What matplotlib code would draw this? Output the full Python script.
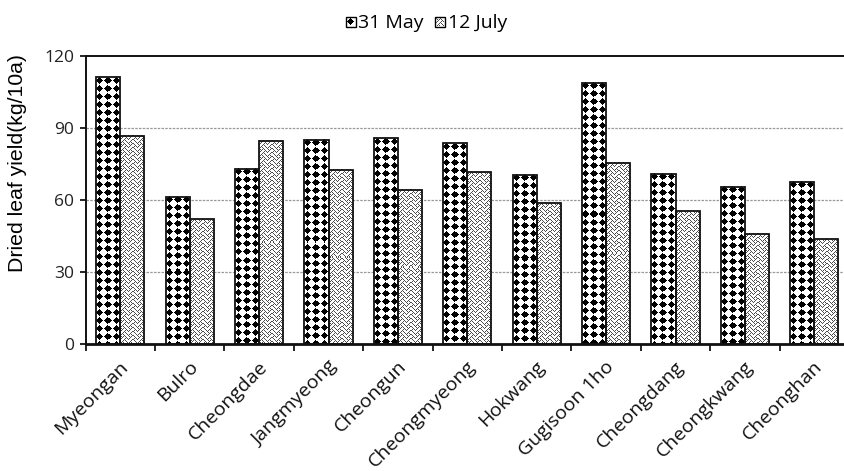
import numpy as np
import matplotlib
matplotlib.use("Agg")
import matplotlib.pyplot as plt
from matplotlib.patches import Rectangle
from matplotlib.legend_handler import HandlerBase
from matplotlib.transforms import ScaledTranslation

# ---- data ----
cultivars = ["Myeongan", "Bulro", "Cheongdae", "Jangmyeong", "Cheongun",
             "Cheongmyeong", "Hokwang", "Gugisoon 1ho", "Cheongdang",
             "Cheongkwang", "Cheonghan"]
may31 = [111.0, 61.3, 72.8, 84.9, 85.6, 83.5, 70.3, 108.7, 71.0, 65.5, 67.6]
july12 = [86.7, 51.9, 84.5, 72.4, 64.1, 71.5, 58.6, 75.4, 55.3, 45.8, 43.6]
series_labels = ["31 May", "12 July"]
yticks = [0, 30, 60, 90, 120]
ylabel = "Dried leaf yield(kg/10a)"

# ---- patterns (8x8 bitmaps) ----
def bits(rows):
    return np.array([[(r >> (7 - i)) & 1 for i in range(8)] for r in rows], dtype=float)

diamond = bits([0x10, 0x38, 0x7c, 0xfe, 0x7c, 0x38, 0x10, 0x00])
weave = bits([0x88, 0x54, 0x22, 0x45, 0x88, 0x14, 0x22, 0x51])
weave_color = (0.3, 0.3, 0.3)
patterns = [(diamond, (0, 0, 0)), (weave, weave_color)]

def pattern_rgb(tile, color, h, w):
    reps = (h // 8 + 2, w // 8 + 2)
    big = np.tile(tile, reps)[:h, :w]
    img = np.ones((h, w, 3))
    for c in range(3):
        img[:, :, c] = np.where(big > 0, color[c], 1.0)
    return img

W, H = 844, 471
fig = plt.figure(figsize=(W / 100, H / 100), dpi=100)
ax = fig.add_axes([85.6 / W, (H - 344.3) / H, (849 - 85.6) / W, (344.3 - 55.7) / H])

n = len(cultivars)
x = np.arange(n)
bw = 0.346
ax.set_xlim(-0.5, n - 0.5)
ax.set_ylim(0, 120)

for si, vals in enumerate([may31, july12]):
    tile, color = patterns[si]
    offs = (si - 0.5) * bw
    bars = ax.bar(x + offs, vals, width=bw, facecolor="none", edgecolor="#111111",
                  linewidth=1.3, zorder=3)
    for b in bars:
        x0, x1 = b.get_x(), b.get_x() + b.get_width()
        h = b.get_height()
        p0 = ax.transData.transform((x0, 0))
        p1 = ax.transData.transform((x1, h))
        wpx = max(1, int(round(p1[0] - p0[0])))
        hpx = max(1, int(round(p1[1] - p0[1])))
        ax.imshow(pattern_rgb(tile, color, hpx, wpx), extent=(x0, x1, 0, h),
                  aspect="auto", interpolation="nearest", zorder=2)

ax.set_xlim(-0.5, n - 0.5)
ax.set_ylim(0, 120)

# grid
for yv in yticks[1:-1]:
    ax.axhline(yv, color="#999999", lw=0.9, ls=(0, (2, 1)), zorder=1)

# spines
for s in ["left", "bottom", "top"]:
    ax.spines[s].set_linewidth(1.4)
    ax.spines[s].set_color("#111111")
ax.spines["bottom"].set_linewidth(2.0)
ax.spines["right"].set_visible(False)

ax.set_yticks(yticks)
ax.set_yticklabels([str(v) for v in yticks], fontsize=12.5, family="Open Sans", color="#222222")
ax.tick_params(axis="y", direction="out", length=4, width=1.2, pad=4)

ax.set_xticks(x)
ax.set_xticks(np.arange(-0.5, n - 0.4, 1.0), minor=True)
ax.tick_params(axis="x", which="major", length=0, pad=9.5)
ax.tick_params(axis="x", which="minor", direction="out", length=5, width=1.2)
ax.set_xticklabels(cultivars, rotation=45, ha="right", va="top", rotation_mode="anchor",
                   fontsize=14, family="Open Sans", color="#111111")
for lab in ax.get_xticklabels():
    lab.set_transform(lab.get_transform() + ScaledTranslation(-1 / 100, 0, fig.dpi_scale_trans))

ax.set_ylabel(ylabel, fontsize=15.3, family="Liberation Sans")
ax.yaxis.set_label_coords((27 - 85.6) / (849 - 85.6), (344.3 - 163) / (344.3 - 55.7))

# legend with pattern swatches
class PatternHandler(HandlerBase):
    def __init__(self, tile, color):
        super().__init__()
        self.tile = tile
        self.color = color

    def create_artists(self, legend, orig_handle, xdescent, ydescent, width, height,
                       fontsize, trans):
        px = 0.72
        size = 10 * px
        x0 = -xdescent + (width - size) / 2
        y0 = -ydescent + (height - size) / 2
        arts = [Rectangle((x0, y0), size, size, facecolor="white", edgecolor="black",
                          lw=1.0, transform=trans)]
        for r in range(8):
            for c in range(8):
                if self.tile[r, c] > 0:
                    arts.append(Rectangle((x0 + (c + 1) * px, y0 + (8 - r) * px), px, px,
                                          facecolor=self.color, edgecolor="none",
                                          transform=trans))
        return arts

h1 = Rectangle((0, 0), 1, 1)
h2 = Rectangle((0, 0), 1, 1)
fig.legend([h1, h2], series_labels, loc="upper center",
           bbox_to_anchor=(426 / W, 1 + 3 / H), ncol=2, frameon=False,
           prop={"family": "Open Sans", "size": 14},
           handler_map={h1: PatternHandler(diamond, (0, 0, 0)),
                        h2: PatternHandler(weave, weave_color)},
           handlelength=0.55, handleheight=0.55, handletextpad=0.1, columnspacing=0.6)

fig.savefig("out.png", dpi=100)
